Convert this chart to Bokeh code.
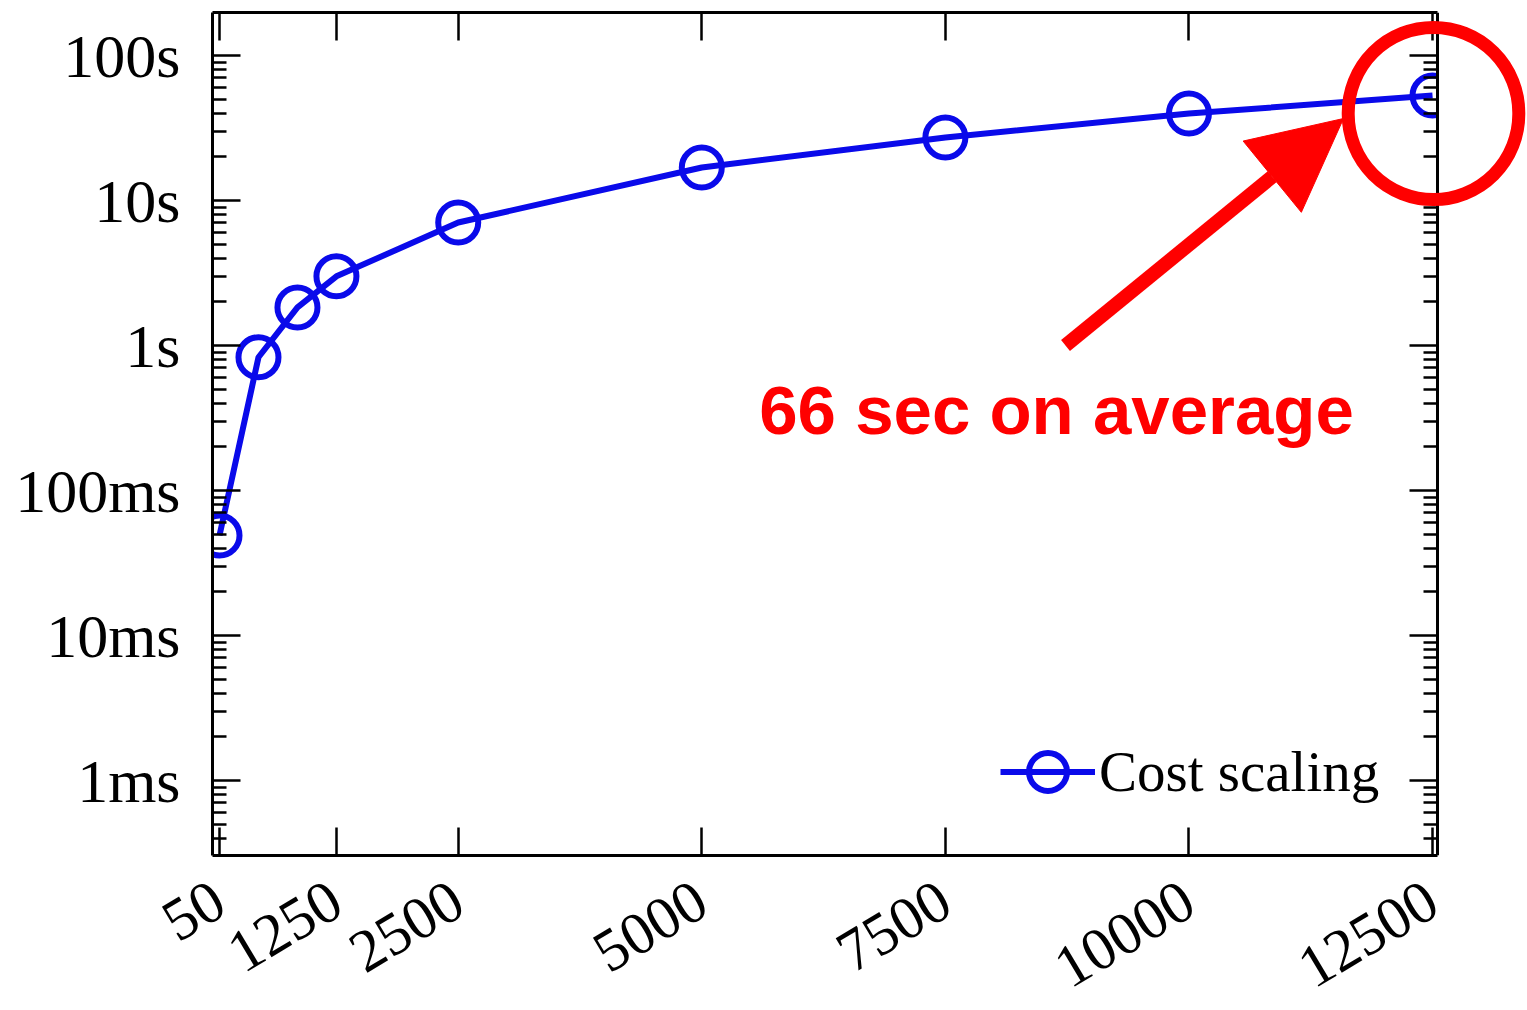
import math

from bokeh.plotting import figure
from bokeh.models import (Range1d, LogAxis, LinearAxis, FixedTicker, CustomJSTickFormatter,
                          CustomLabelingPolicy, Label, Arrow, NormalHead, BoxAnnotation)
from bokeh.embed import file_html
from bokeh.resources import INLINE

# ---- data -------------------------------------------------------------
num_items = [50, 450, 850, 1250, 2500, 5000, 7500, 10000, 12500]
runtime_s = [0.049, 0.83, 1.83, 3.0, 7.05, 16.9, 27.2, 39.8, 53.0]

x_ticks = [50, 1250, 2500, 5000, 7500, 10000, 12500]
y_tick_values = [0.001, 0.01, 0.1, 1, 10, 100]
y_tick_labels = ["1ms", "10ms", "100ms", "1s", "10s", "100s"]
series_label = "Cost scaling"
note_text = "66 sec on average"

# ---- layout constants -------------------------------------------------
W, H = 1527, 1010
B_LEFT, B_TOP, B_BOTTOM = 212, 12, 155
BOX_W = 1225                      # width of the drawn axes box
FH = H - B_TOP - B_BOTTOM
X0, XB = -22, 12551               # x extent of the axes box
PX_PER_X = BOX_W / (XB - X0)
X1 = X0 + (W - B_LEFT) / PX_PER_X  # frame runs to the right edge so the call-out can overhang the box
Y0, Y1 = 3.04e-4, 198.0

BLUE = "#0a0aea"
RED = "#ff0000"
SERIF = "Liberation Serif"


def canvas_to_data(px, py):
    """Convert a canvas pixel position into data coordinates (linear x, log y)."""
    x = X0 + (px - B_LEFT) / PX_PER_X
    ly = math.log10(Y1) - (py - B_TOP) / FH * (math.log10(Y1) - math.log10(Y0))
    return x, 10 ** ly


p = figure(width=W, height=H, x_range=Range1d(X0, X1), y_range=Range1d(Y0, Y1),
           y_axis_type="log", output_backend="svg", toolbar_location=None)
p.min_border_left = B_LEFT
p.min_border_right = 0
p.min_border_top = B_TOP
p.min_border_bottom = B_BOTTOM
p.xgrid.visible = False
p.ygrid.visible = False
p.outline_line_color = None
p.background_fill_color = "white"
p.border_fill_color = "white"

minor_y = [k * 10 ** e for e in range(-4, 3) for k in range(2, 10) if Y0 <= k * 10 ** e <= Y1]
y_ticker = FixedTicker(ticks=y_tick_values, minor_ticks=minor_y)
x_ticker = FixedTicker(ticks=x_ticks)

y_fmt = CustomJSTickFormatter(args=dict(vals=y_tick_values, labs=y_tick_labels), code="""
for (let i = 0; i < vals.length; i++) {
  if (Math.abs(tick / vals[i] - 1) < 1e-6) return labs[i];
}
return "";
""")

no_labels = CustomLabelingPolicy(code="return new Set()")


def style_axis(ax, minor=True):
    ax.axis_line_color = "black"
    ax.axis_line_width = 3
    ax.major_tick_in = 28
    ax.major_tick_out = 0
    ax.major_tick_line_width = 2.5
    ax.major_tick_line_color = "black"
    if minor:
        ax.minor_tick_in = 14
        ax.minor_tick_out = 0
        ax.minor_tick_line_width = 2.5
        ax.minor_tick_line_color = "black"
    else:
        ax.minor_tick_line_color = None


def ticks_only(ax):
    ax.major_label_policy = no_labels
    ax.major_label_text_font_size = "1px"
    ax.major_label_standoff = 0


# left axis
ly = p.yaxis[0]
ly.ticker = y_ticker
ly.formatter = y_fmt
style_axis(ly)
ly.major_label_text_font = SERIF
ly.major_label_text_font_size = "62px"
ly.major_label_text_color = "black"
ly.major_label_standoff = 32

# bottom axis, limited to the box
bx = p.xaxis[0]
bx.ticker = x_ticker
bx.bounds = (X0, XB)
style_axis(bx, minor=False)
bx.major_label_text_font = SERIF
bx.major_label_text_font_size = "60px"
bx.major_label_text_color = "black"
bx.major_label_orientation = 0.54
bx.major_label_standoff = 40

# top edge of the box, ticks only
tx = LinearAxis(ticker=x_ticker, bounds=(X0, XB))
style_axis(tx, minor=False)
ticks_only(tx)
p.add_layout(tx, "above")

# ---- series -----------------------------------------------------------
p.line(num_items, runtime_s, line_color=BLUE, line_width=6, legend_label=series_label)
p.scatter(num_items, runtime_s, marker="circle", size=40, line_color=BLUE,
          line_width=6, fill_color=None, legend_label=series_label)

# keep the series inside the box
p.add_layout(BoxAnnotation(left=XB, fill_color="white", fill_alpha=1, line_color=None,
                           level="glyph"))

# right edge of the box, ticks only
ry = LogAxis(ticker=y_ticker, fixed_location=XB)
style_axis(ry)
ticks_only(ry)
p.add_layout(ry, "right")

leg = p.legend[0]
leg.location = (788, 31)
leg.border_line_color = None
leg.background_fill_alpha = 0
leg.label_text_font = SERIF
leg.label_text_font_size = "57px"
leg.label_text_color = "black"
leg.glyph_width = 95
leg.glyph_height = 105
leg.padding = 0
leg.margin = 0
leg.spacing = 0
leg.label_standoff = 4

# ---- red call-out -----------------------------------------------------
# ring: a blank label whose rounded border forms a circle
ring_x, ring_y = canvas_to_data(1433, 113)
p.add_layout(Label(x=ring_x, y=ring_y, text=" ", text_font_size="2px", text_align="center",
                   text_baseline="middle", padding=85, border_radius=86,
                   border_line_color=RED, border_line_width=13, background_fill_color=None,
                   level="overlay"))

a_start = canvas_to_data(1065, 345)
a_end = canvas_to_data(1343, 118)
p.add_layout(Arrow(end=NormalHead(size=92, fill_color=RED, line_color=RED, line_width=1),
                   x_start=a_start[0], y_start=a_start[1], x_end=a_end[0], y_end=a_end[1],
                   line_color=RED, line_width=14, level="overlay"))

t_x, t_y = canvas_to_data(1056, 410)
p.add_layout(Label(x=t_x, y=t_y, text=note_text, text_align="center", text_baseline="alphabetic",
                   text_font="Liberation Sans", text_font_style="bold", text_font_size="69px",
                   text_color=RED, level="overlay"))

open("out.html", "w").write(file_html(p, INLINE))
